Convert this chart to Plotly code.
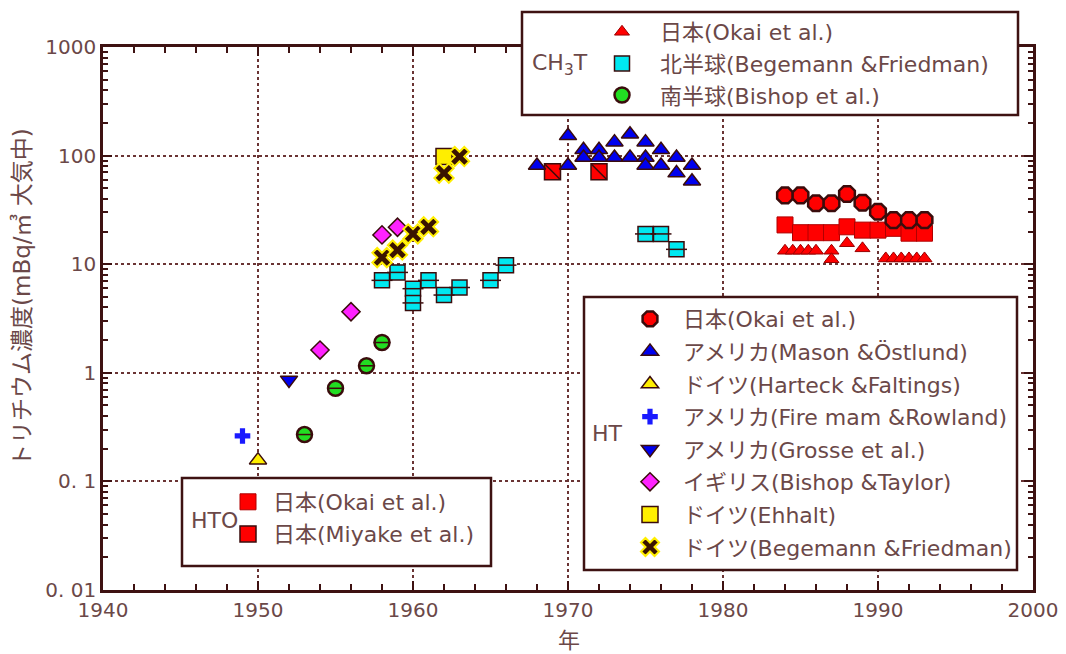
import plotly.graph_objects as go

# ---------------- data ----------------
# HT
ht_jp_okai_year = [1984, 1985, 1986, 1987, 1988, 1989, 1990, 1991, 1992, 1993]
ht_jp_okai_val = [43, 43, 36.4, 36.4, 44.3, 36.8, 30.4, 25.5, 25.5, 25.5]

ht_us_mason_year = [1968, 1970, 1970, 1971, 1971, 1972, 1972, 1973, 1973, 1974,
                    1974, 1975, 1975, 1975, 1976, 1976, 1977, 1977, 1978, 1978]
ht_us_mason_val = [81, 152, 81, 113, 96, 113, 96, 133, 96, 157,
                   96, 133, 96, 81, 113, 81, 96, 69, 81, 58]

ht_de_harteck_year = [1950]
ht_de_harteck_val = [0.157]

ht_us_fireman_year = [1949]
ht_us_fireman_val = [0.262]

ht_us_grosse_year = [1952]
ht_us_grosse_val = [0.86]

ht_uk_bishop_year = [1954, 1956, 1958, 1959]
ht_uk_bishop_val = [1.62, 3.65, 18.6, 21.9]

ht_de_ehhalt_year = [1962]
ht_de_ehhalt_val = [98]

ht_de_begemann_year = [1958, 1959, 1960, 1961, 1962, 1963]
ht_de_begemann_val = [11.5, 13.5, 19, 22.1, 69, 98]

# HTO
hto_jp_okai_year = [1984, 1985, 1986, 1987, 1988, 1989, 1990, 1991, 1992, 1993]
hto_jp_okai_val = [23, 19.5, 19.5, 19.5, 22.1, 20.6, 20.6, 21.4, 19.3, 19.3]

hto_jp_miyake_year = [1969, 1972]
hto_jp_miyake_val = [71, 71]

# CH3T
ch3t_jp_okai_year = [1984, 1984.5, 1985, 1985.5, 1986, 1987, 1987, 1988, 1989,
                     1990.5, 1991, 1991.5, 1992, 1992.5, 1993]
ch3t_jp_okai_val = [13.3, 13.3, 13.3, 13.3, 13.3, 13.3, 11.1, 15.6, 14.0,
                    11.3, 11.3, 11.3, 11.3, 11.3, 11.3]

ch3t_north_year = [1958, 1959, 1960, 1960, 1961, 1962, 1963, 1965, 1966, 1975, 1976, 1977]
ch3t_north_val = [7.1, 8.4, 5.95, 4.4, 7.1, 5.2, 6.1, 7.1, 9.8, 19, 19, 13.7]

ch3t_south_year = [1953, 1955, 1957, 1958]
ch3t_south_val = [0.27, 0.72, 1.16, 1.9]

y_tickvals = [0.01, 0.1, 1, 10, 100, 1000]
y_ticktext = ["0. 01", "0. 1", "1", "10", "100", "1000"]
x_tickvals = [1940, 1950, 1960, 1970, 1980, 1990, 2000]

# ---------------- styles ----------------
FONT = "DejaVu Sans, Noto Sans CJK JP"
TXT = "#6b4848"
AX = "#3e1212"
EDGE = "#3a0c0c"

# plot area (reference pixels) -> paper helpers
PL, PR, PT, PB = 103, 1033, 47, 590


def px(x):
    return (x - PL) / (PR - PL)


def py(y):
    return (PB - y) / (PB - PT)


fig = go.Figure()


def add(x, y, name, legend, group, symbol, color, size, lw=1.5, lc=EDGE, show=True):
    fig.add_trace(go.Scatter(
        x=x, y=y, mode="markers", name=name, legend=legend, legendgroup=group,
        showlegend=show,
        marker=dict(symbol=symbol, color=color, size=size,
                    line=dict(color=lc, width=lw)),
        hoverinfo="x+y+name",
    ))


# CH3T legend (legend)
add(ch3t_jp_okai_year, ch3t_jp_okai_val, "日本(Okai et al.)", "legend", "c1",
    "triangle-up", "#ff0000", 13, 1, "#9a0000")
add(ch3t_north_year, ch3t_north_val, "北半球(Begemann &Friedman)", "legend", "c2",
    "square", "#00e8f0", 15, 1.5)
add(ch3t_north_year, ch3t_north_val, "n_line", "legend", "c2",
    "line-ew", EDGE, 15, 1.5, EDGE, False)
add(ch3t_south_year, ch3t_south_val, "南半球(Bishop et al.)", "legend", "c3",
    "circle", "#22dd22", 15, 2.5)
add(ch3t_south_year, ch3t_south_val, "s_line", "legend", "c3",
    "line-ew", EDGE, 12, 1.5, EDGE, False)

# HTO legend (legend3)
add(hto_jp_okai_year, hto_jp_okai_val, "日本(Okai et al.)", "legend3", "o1",
    "square", "#ff0000", 16, 1, "#b00000")
add(hto_jp_miyake_year, hto_jp_miyake_val, "日本(Miyake et al.)", "legend3", "o2",
    "square", "#ff0000", 16, 1.5)
add(hto_jp_miyake_year, hto_jp_miyake_val, "m_line", "legend3", "o2",
    "line-nw", EDGE, 15, 1.5, EDGE, False)

# HT legend (legend2)
add(ht_jp_okai_year, ht_jp_okai_val, "日本(Okai et al.)", "legend2", "h1",
    "octagon", "#ff0000", 17, 2.5)
add(ht_us_mason_year, ht_us_mason_val, "アメリカ(Mason &Östlund)", "legend2", "h2",
    "triangle-up", "#0000ee", 15, 1.5)
add(ht_de_harteck_year, ht_de_harteck_val, "ドイツ(Harteck &Faltings)", "legend2", "h3",
    "triangle-up", "#ffee00", 15, 1.5)
add(ht_us_fireman_year, ht_us_fireman_val, "アメリカ(Fire mam &Rowland)", "legend2", "h4",
    "cross", "#1a1aff", 13, 0, "#1a1aff")
add(ht_us_grosse_year, ht_us_grosse_val, "アメリカ(Grosse et al.)", "legend2", "h5",
    "triangle-down", "#0000ee", 15, 1.5)
add(ht_uk_bishop_year, ht_uk_bishop_val, "イギリス(Bishop &Taylor)", "legend2", "h6",
    "diamond", "#ff22ff", 14, 1.5)
add(ht_de_ehhalt_year, ht_de_ehhalt_val, "ドイツ(Ehhalt)", "legend2", "h7",
    "square", "#ffee00", 16, 1.5)
add(ht_de_begemann_year, ht_de_begemann_val, "ドイツ(Begemann &Friedman)", "legend2", "h8",
    "x", "#3a1400", 17, 2, "#ffee00")


def leg(x_sym, y_top, itemw, gap):
    return dict(x=px(x_sym - itemw / 2 - 5), y=py(y_top),
                bgcolor="rgba(0,0,0,0)", borderwidth=0,
                font=dict(family=FONT, size=22, color=TXT),
                xanchor="left", yanchor="top", tracegroupgap=gap,
                itemsizing="trace", itemwidth=itemw)


# legend frames (white boxes) drawn as shapes in paper coordinates
boxes = [(522, 12, 1018, 115), (584, 297, 1017, 570), (182, 478, 491, 566)]
shapes = []
for (x0, y0, x1, y1) in boxes:
    shapes.append(dict(type="rect", xref="paper", yref="paper", layer="above",
                       x0=px(x0), x1=px(x1), y0=py(y1), y1=py(y0),
                       fillcolor="white", line=dict(color=AX, width=2.5)))

annotations = []
for (t, x, y) in [("CH<sub>3</sub>T", 530, 64), ("HT", 590, 433), ("HTO", 189, 520)]:
    annotations.append(dict(text=t, xref="paper", yref="paper", x=px(x), y=py(y),
                            xanchor="left", yanchor="middle", showarrow=False,
                            font=dict(family=FONT, size=22, color=TXT)))
# axis titles
annotations.append(dict(text="トリチウム濃度(mBq/㎥ 大気中)", xref="paper", yref="paper",
                        x=px(22), y=py(298), xanchor="center", yanchor="middle",
                        textangle=-90, showarrow=False,
                        font=dict(family=FONT, size=23, color=TXT)))
annotations.append(dict(text="年", xref="paper", yref="paper",
                        x=px(569), y=py(640), xanchor="center", yanchor="middle",
                        showarrow=False, font=dict(family=FONT, size=22, color=TXT)))

# page body has an 8px margin -> shrink the figure accordingly
OFF = 8
W, H = 1066 - OFF, 654 - OFF

fig.update_layout(
    width=W, height=H,
    margin=dict(l=PL - OFF, r=W - (PR - OFF), t=PT - OFF, b=H - (PB - OFF),
                autoexpand=False),
    paper_bgcolor="white", plot_bgcolor="white",
    font=dict(family=FONT, color=TXT, size=21),
    shapes=shapes,
    annotations=annotations,
    legend=leg(622, 11, 66, 0),
    legend2=leg(650, 298, 56, 1),
    legend3=leg(248, 481, 40, 0.5),
    xaxis=dict(range=[1940, 2000], tickvals=x_tickvals, showline=True, linecolor=AX,
               linewidth=2.5, mirror="allticks", ticks="inside", ticklen=9,
               tickwidth=2, tickcolor=AX,
               minor=dict(dtick=2, ticks="inside", ticklen=6, tickwidth=1.5, tickcolor=AX),
               showgrid=True, gridcolor="#6a3434", griddash="dot", gridwidth=1.5,
               zeroline=False, tickfont=dict(size=20, color=TXT)),
    yaxis=dict(type="log", range=[-2, 3], tickvals=y_tickvals, ticktext=y_ticktext,
               showline=True, linecolor=AX, linewidth=2.5, mirror="allticks",
               ticks="inside", ticklen=9, tickwidth=2, tickcolor=AX,
               minor=dict(dtick="D1", ticks="inside", ticklen=5, tickwidth=1.5, tickcolor=AX),
               showgrid=True, gridcolor="#6a3434", griddash="dot", gridwidth=1.5,
               zeroline=False, tickfont=dict(size=20, color=TXT)),
    showlegend=True,
)

fig.write_html("out.html")
